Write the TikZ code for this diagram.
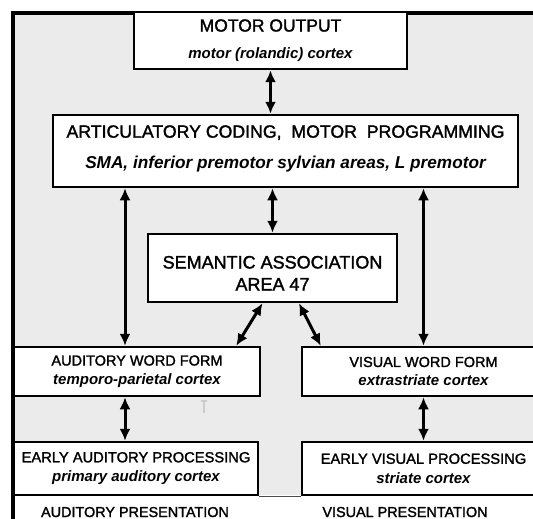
\documentclass[tikz,border=0pt]{standalone}
\usepackage{fontspec}
\setmainfont{Liberation Sans}
\newfontfamily\capfont{Liberation Sans}[FakeBold=1.6]
\usetikzlibrary{calc,positioning,arrows.meta}
\tikzset{area/.style={draw=black,line width=2.5pt,fill=white,align=center,inner sep=0pt},
        capsize/.style={font=\capfont\fontsize{#1}{#1}\selectfont}}
\tikzstyle{link} = [line width=3pt,{Latex[length=12pt,width=11pt]}-{Latex[length=12pt,width=11pt]}]
\newcommand{\site}[2]{{\fontsize{#1}{#1}\selectfont\normalfont\bfseries\itshape #2}}

\begin{document}
\begin{tikzpicture}[x=1pt,y=-1pt]
	\useasboundingbox (0,0) rectangle (533,519);
	\clip (0,0) rectangle (533,519);
	\fill[white] (0,0) rectangle (533,519);
	\fill[gray!16] (13,13) rectangle (545,495);
	\draw[line width=4pt] (13,530) |- (545,13);
	\draw[gray!40,line width=1.5pt] (204,401) -- (204,413) (201,401) -- (207,401);

	\node[area,minimum width=273pt,minimum height=57pt,font=\capfont\fontsize{17.5}{27}\selectfont] (motor) at (270.5,40.5)
		{MOTOR OUTPUT\\\site{15}{motor (rolandic) cortex}};
	\node[area,minimum width=465pt,minimum height=72pt,font=\capfont\fontsize{17.7}{31}\selectfont] (artic) at (285.5,151)
		{ARTICULATORY CODING, \ MOTOR \ PROGRAMMING\\\site{17.2}{SMA, inferior premotor sylvian areas, L premotor}\rule[-8pt]{0pt}{8pt}};
	\node[area,minimum width=249pt,minimum height=68pt,font=\capfont\fontsize{18}{22}\selectfont] (sem) at (272.5,268)
		{\rule{0pt}{23pt}SEMANTIC ASSOCIATION\\AREA 47};
	\node[area,minimum width=246pt,minimum height=49pt,font=\capfont\fontsize{14.5}{19}\selectfont] (audword) at (137,371.5)
		{AUDITORY WORD FORM\\\site{15}{temporo-parietal cortex}};
	\node[area,minimum width=243pt,minimum height=49pt,font=\capfont\fontsize{14.5}{19}\selectfont] (visword) at (423.5,371.5)
		{VISUAL WORD FORM\\\site{15}{extrastriate cortex}};
	\node[area,minimum width=244pt,minimum height=53pt,font=\capfont\fontsize{14.7}{19.5}\selectfont] (audearly) at (136,468.5)
		{EARLY AUDITORY PROCESSING\\\site{15}{primary auditory cortex}};
	\node[area,minimum width=243pt,minimum height=53pt,font=\capfont\fontsize{14.7}{19.5}\selectfont] (visearly) at (423.5,468.5)
		{EARLY VISUAL PROCESSING\\\site{15}{striate cortex}};
	\node[capsize=14.4,anchor=base] (audpres) at (135,517) {AUDITORY PRESENTATION};
	\node[capsize=14.4,anchor=base] (vispres) at (405,517) {VISUAL PRESENTATION};

	\draw[gray!60!black,line width=1.5pt] (audearly.south east) -- (visearly.south west);
	\draw[link] (motor.south) -- (motor.south |- artic.north);
	\draw[link] (sem.north) -- (sem.north |- artic.south);
	\draw[link] ([xshift=-12pt]audword.north |- artic.south) -- ([xshift=-12pt]audword.north);
	\draw[link] (visword.north |- artic.south) -- (visword.north);
	\draw[link] ([xshift=-10pt]sem.south) -- ([xshift=-25pt]audword.north east);
	\draw[link] ([xshift=26.5pt]sem.south) -- ([xshift=20pt]visword.north west);
	\draw[link] ([xshift=-12pt]audword.south) -- ([xshift=-12pt]audword.south |- audearly.north);
	\draw[link] (visword.south) -- (visword.south |- visearly.north);
\end{tikzpicture}
\end{document}
